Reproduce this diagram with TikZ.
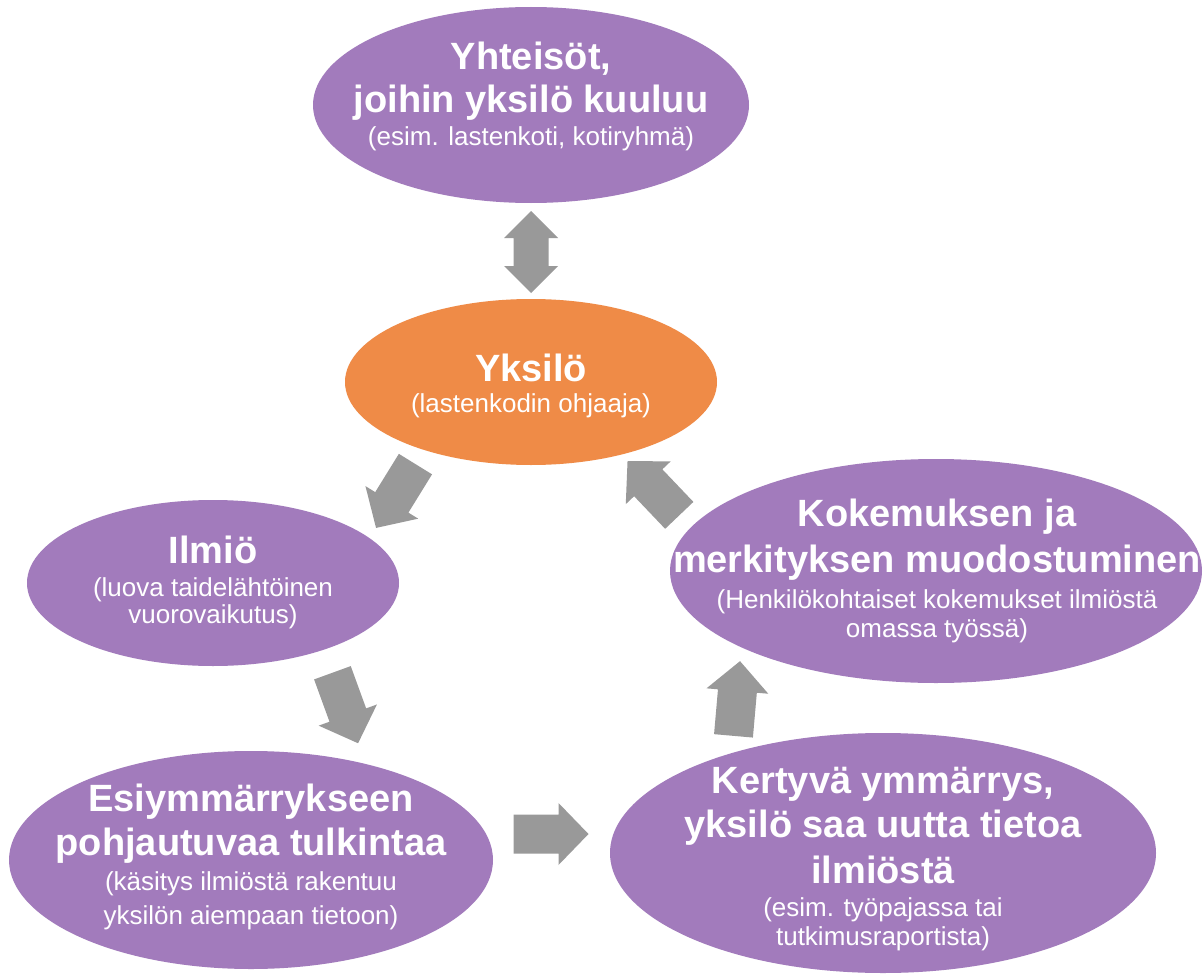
\documentclass[tikz,border=0pt]{standalone}
\usepackage{fontspec}
\setmainfont{Liberation Sans}
\usetikzlibrary{shapes.geometric}
\definecolor{lila}{RGB}{162,123,188}
\definecolor{oranssi}{RGB}{239,139,71}
\definecolor{harmaa}{RGB}{153,153,153}
\tikzset{
  blob/.style={ellipse, draw=none, inner sep=0pt, outer sep=0pt},
  ttl/.style={text=white, font=\fontsize{38}{44}\selectfont\bfseries, anchor=base, inner sep=0pt},
  sub/.style={text=white, font=\fontsize{26}{30}\selectfont, anchor=base, inner sep=0pt},
  barrow/.pic={\fill[harmaa] (-37.5,-19.5) -- (7.5,-19.5) -- (7.5,-31) -- (37.5,0) -- (7.5,31) -- (7.5,19.5) -- (-37.5,19.5) -- cycle;},
  dbarrow/.pic={\fill[harmaa] (41,0) -- (14,27) -- (14,17.5) -- (-14,17.5) -- (-14,27) -- (-41,0) -- (-14,-27) -- (-14,-17.5) -- (14,-17.5) -- (14,-27) -- cycle;}
}
\begin{document}
\begin{tikzpicture}[x=1pt,y=-1pt]
\useasboundingbox (0,0) rectangle (1203,974);
\fill[white] (0,0) rectangle (1203,974);

% ellipses
\node[blob, fill=lila, minimum width=436, minimum height=196] (yht) at (531,105) {};
\node[blob, fill=oranssi, minimum width=372, minimum height=166] (ysk) at (531,382) {};
\node[blob, fill=lila, minimum width=372, minimum height=166] (ilm) at (213,583) {};
\node[blob, fill=lila, minimum width=532, minimum height=224] (kok) at (936,571) {};
\node[blob, fill=lila, minimum width=484, minimum height=218] (esi) at (251,860) {};
\node[blob, fill=lila, minimum width=546, minimum height=240] (ker) at (883,853) {};

% texts
\node[ttl] (yht1) at (531,70) {Yhteisöt,};
\node[ttl] (yht2) at (531,113) {joihin yksilö kuuluu};
\node[sub] (yht3) at (531,146) {(esim. lastenkoti, kotiryhmä)};

\node[ttl] (ysk1) at (531,381) {Yksilö};
\node[sub] (ysk2) at (531,412) {(lastenkodin ohjaaja)};

\node[ttl] (ilm1) at (213,563) {Ilmiö};
\node[sub] (ilm2) at (213,596) {(luova taidelähtöinen};
\node[sub] (ilm3) at (213,623) {vuorovaikutus)};

\node[ttl] (kok1) at (937,526) {Kokemuksen ja};
\node[ttl] (kok2) at (937,572) {merkityksen muodostuminen};
\node[sub] (kok3) at (937,608) {(Henkilökohtaiset kokemukset ilmiöstä};
\node[sub] (kok4) at (937,637) {omassa työssä)};

\node[ttl] (esi1) at (251,811) {Esiymmärrykseen};
\node[ttl] (esi2) at (251,855) {pohjautuvaa tulkintaa};
\node[sub] (esi3) at (251,890) {(käsitys ilmiöstä rakentuu};
\node[sub] (esi4) at (251,924) {yksilön aiempaan tietoon)};

\node[ttl] (ker1) at (883,793) {Kertyvä ymmärrys,};
\node[ttl] (ker2) at (883,837) {yksilö saa uutta tietoa};
\node[ttl] (ker3) at (883,883) {ilmiöstä};
\node[sub] (ker4) at (883,916) {(esim. työpajassa tai};
\node[sub] (ker5) at (883,945) {tutkimusraportista)};

% block arrows
\pic[rotate=90] (d1) at (531,252) {dbarrow};
\pic[rotate=238.3] (a1) at (395.75,496) {barrow};
\pic[rotate=290] (a2) at (345.25,708) {barrow};
\pic[rotate=0] (a3) at (551,834) {barrow};
\pic[rotate=85] (a4) at (736.75,698.5) {barrow};
\pic[rotate=133.6] (a5) at (653.4,488.2) {barrow};
\end{tikzpicture}
\end{document}
